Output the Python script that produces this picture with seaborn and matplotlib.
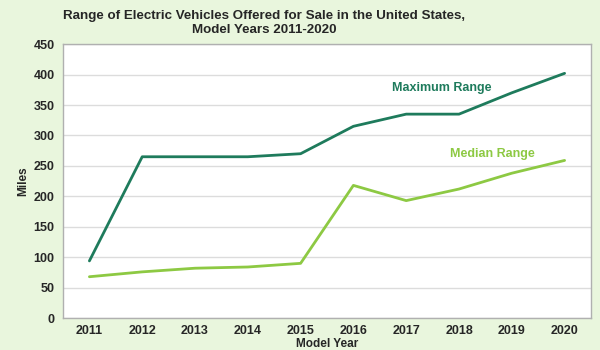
import matplotlib
matplotlib.use('Agg')
import matplotlib.pyplot as plt
import seaborn as sns
import pandas as pd
import numpy as np

years = ['2011', '2012', '2013', '2014', '2015', '2016', '2017', '2018', '2019', '2020']
max_range = [94, 265, 265, 265, 270, 315, 335, 335, 370, 402]
median_range = [68, 76, 82, 84, 90, 218, 193, 212, 238, 259]

BG = '#e9f6dd'
DARK = '#1e7b5c'
LIGHT = '#8dc943'

sns.set_style('white')
plt.rcParams['font.family'] = ['Liberation Sans', 'DejaVu Sans']

df = pd.DataFrame({'pos': np.arange(len(years)), 'Max': max_range, 'Median': median_range})

fig = plt.figure(figsize=(6, 3.5), dpi=100, facecolor=BG)
ax = fig.add_axes([0.105, 0.091, 0.88, 0.783])
ax.set_facecolor('white')

sns.lineplot(data=df, x='pos', y='Max', color=DARK, linewidth=2, ax=ax)
sns.lineplot(data=df, x='pos', y='Median', color=LIGHT, linewidth=2, ax=ax)

ax.set_xlim(-0.5, len(years) - 0.5)
ax.set_ylim(0, 450)
ax.set_yticks(range(0, 451, 50))
ax.set_xticks(df['pos'])
ax.set_xticklabels(years)
ax.set_xticks(np.arange(-0.5, len(years), 1), minor=True)
ax.tick_params(axis='x', which='major', length=0, labelsize=9, pad=5)
ax.tick_params(axis='x', which='minor', length=3, color='#999999', direction='out')
ax.tick_params(axis='y', length=0, labelsize=9, pad=6)
for lab in ax.get_xticklabels() + ax.get_yticklabels():
    lab.set_fontweight('bold')

ax.yaxis.grid(True, color='#dcdcdc', linewidth=1)
for s in ax.spines.values():
    s.set_color('#b0b0b0')
    s.set_linewidth(1)

ax.set_xlabel('Model Year', fontsize=8.5, fontweight='bold', labelpad=1)
ax.set_ylabel('Miles', fontsize=8.5, fontweight='bold', labelpad=3)

ax.text(6.68, 378, 'Maximum Range', color=DARK, fontsize=9, fontweight='bold', ha='center', va='center')
ax.text(7.64, 269, 'Median Range', color=LIGHT, fontsize=9, fontweight='bold', ha='center', va='center')

fig.text(0.44, 0.97, 'Range of Electric Vehicles Offered for Sale in the United States,\nModel Years 2011-2020',
         ha='center', va='top', fontsize=9.6, fontweight='bold', linespacing=1.2)

fig.savefig('out.png', dpi=100, facecolor=BG)
